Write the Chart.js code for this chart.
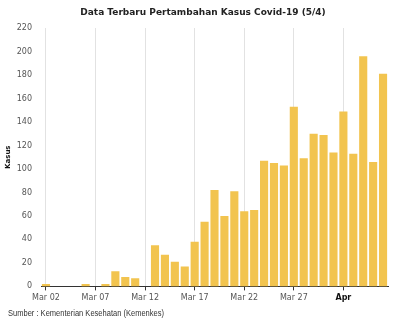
<!DOCTYPE html>
<html>
<head>
<meta charset="utf-8">
<script src="https://cdn.jsdelivr.net/npm/chart.js@4"></script>
<style>
html,body{margin:0;padding:0;background:#fff;}
#wrap{position:relative;width:400px;height:330px;}
</style>
</head>
<body>
<div id="wrap"><canvas id="c" width="400" height="330"></canvas></div>
<script>
const titleText = "Data Terbaru Pertambahan Kasus Covid-19 (5/4)";
const sourceText = "Sumber : Kementerian Kesehatan (Kemenkes)";
const yTitle = "Kasus";
const dates = ["Mar 02","Mar 03","Mar 04","Mar 05","Mar 06","Mar 07","Mar 08","Mar 09","Mar 10","Mar 11",
  "Mar 12","Mar 13","Mar 14","Mar 15","Mar 16","Mar 17","Mar 18","Mar 19","Mar 20","Mar 21",
  "Mar 22","Mar 23","Mar 24","Mar 25","Mar 26","Mar 27","Mar 28","Mar 29","Mar 30","Mar 31",
  "Apr 01","Apr 02","Apr 03","Apr 04","Apr 05"];
const cases = [2,0,0,0,2,0,2,13,8,7,
  0,35,27,21,17,38,55,82,60,81,
  64,65,107,105,103,153,109,130,129,114,
  149,113,196,106,181];
const tickLabels = {0:"Mar 02",5:"Mar 07",10:"Mar 12",15:"Mar 17",20:"Mar 22",25:"Mar 27",30:"Apr"};
const boldTicks = [30];

const textPlugin = {
  id: 'titleAndSource',
  afterDraw(chart) {
    const c = chart.ctx;
    c.save();
    c.font = 'bold 9px "DejaVu Sans"';
    c.fillStyle = '#222';
    c.textAlign = 'center';
    c.textBaseline = 'middle';
    c.fillText(titleText, 203, 13);
    c.font = '9px "Liberation Sans"';
    c.fillStyle = '#333';
    c.textAlign = 'left';
    c.fillText(sourceText, 8, 314, 156);
    c.restore();
  }
};

new Chart(document.getElementById('c'), {
  type: 'bar',
  data: {
    labels: dates,
    datasets: [{
      data: cases,
      backgroundColor: '#F2C44F',
      borderWidth: 0,
      barPercentage: 0.82,
      categoryPercentage: 1.0
    }]
  },
  plugins: [textPlugin],
  options: {
    responsive: false,
    animation: false,
    devicePixelRatio: 1,
    layout: { padding: { left: 0, right: 12, top: 28, bottom: 24 } },
    plugins: {
      legend: { display: false },
      tooltip: { enabled: false },
      title: { display: false },
      subtitle: { display: false }
    },
    scales: {
      x: {
        offset: true,
        grid: {
          offset: false,
          drawOnChartArea: true,
          color: ctx => (ctx.index in tickLabels) ? '#e2e2e2' : 'rgba(0,0,0,0)',
          tickColor: ctx => (ctx.index in tickLabels) ? '#333' : 'rgba(0,0,0,0)',
          tickLength: 4
        },
        border: { display: true, color: '#333', width: 1 },
        ticks: {
          autoSkip: false, maxRotation: 0, padding: 3,
          callback: (v, i) => tickLabels[i] !== undefined ? tickLabels[i] : '',
          color: ctx => boldTicks.includes(ctx.index) ? '#111' : '#555',
          font: ctx => boldTicks.includes(ctx.index)
            ? { family: 'DejaVu Sans', size: 8, weight: 'bold' }
            : { family: 'DejaVu Sans', size: 8 }
        }
      },
      y: {
        min: 0, max: 220,
        afterFit(scale) { scale.width = 41; },
        grid: { display: false, drawTicks: false },
        border: { display: false },
        ticks: { stepSize: 20, color: '#555', padding: 9, font: { family: 'DejaVu Sans', size: 8 } },
        title: { display: true, text: yTitle, color: '#111', font: { family: 'DejaVu Sans', size: 7, weight: 'bold' }, padding: { top: 4, bottom: 0 } }
      }
    }
  }
});
</script>
</body>
</html>
